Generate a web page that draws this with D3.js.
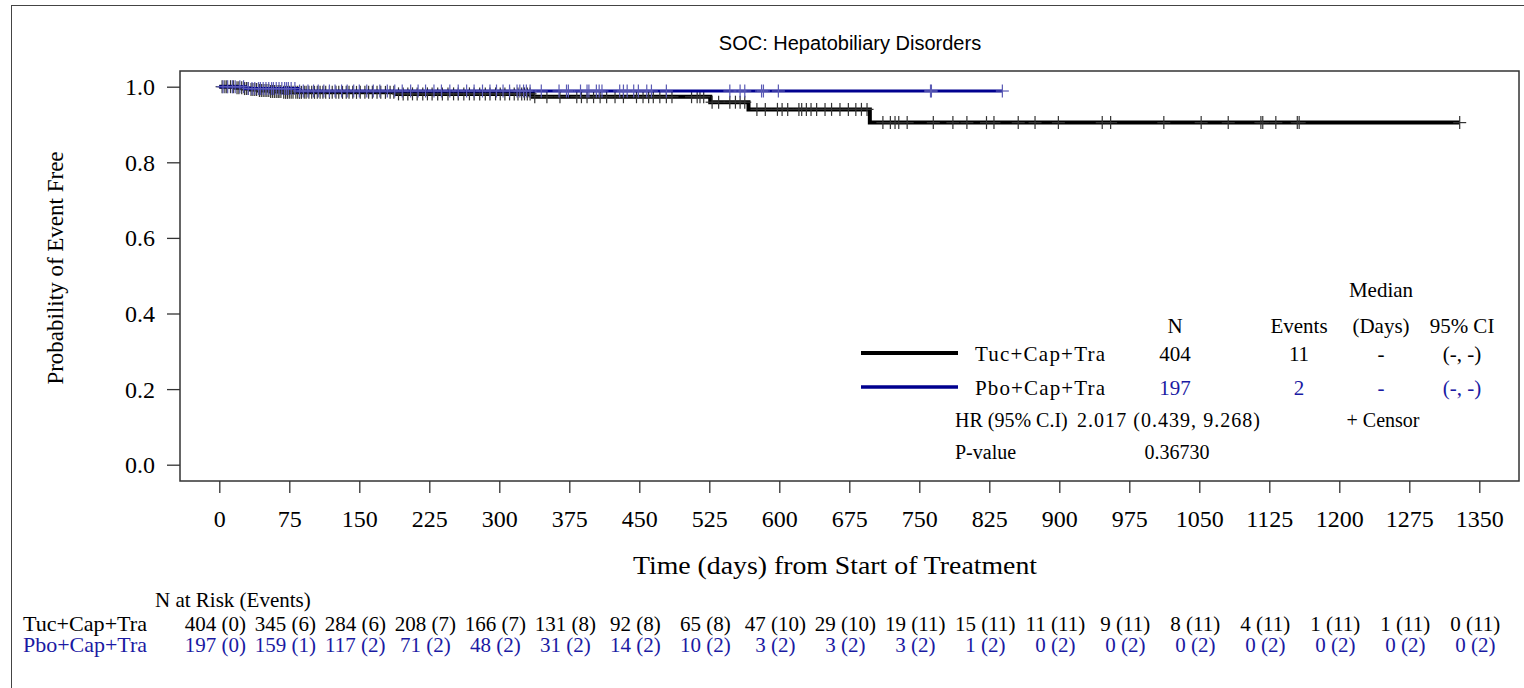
<!DOCTYPE html>
<meta charset="utf-8">
<head>
  <title>KM - Hepatobiliary Disorders</title>
</head>

<style>
  body { margin: 0; background: #fff; }
  text { font-family: "Liberation Serif", "Times New Roman", serif; fill: #000; }
  .title { font-family: "Liberation Sans", Arial, sans-serif; }
</style>

<body>

  <div id="my_dataviz"></div>

  <script src="https://d3js.org/d3.v7.min.js"></script>
  <script>

  // ---- data ----
  var xTickValues = [0, 75, 150, 225, 300, 375, 450, 525, 600, 675, 750, 825, 900, 975, 1050, 1125, 1200, 1275, 1350];
  var yTickValues = [0, 0.2, 0.4, 0.6, 0.8, 1.0];

  var groups = ["Tuc+Cap+Tra", "Pbo+Cap+Tra"];

  // KM steps (time in days, survival after the step)
  var tucTimes = [0, 18, 25, 33, 42, 55, 68, 190, 336, 526, 567, 697];
  var tucSurv  = [1, 0.9975, 0.995, 0.9925, 0.990, 0.9875, 0.985, 0.981, 0.9735, 0.959, 0.940, 0.905];
  var tucEnd = 1329;

  var pboTimes = [0, 28, 84];
  var pboSurv  = [1, 0.995, 0.9886];
  var pboEnd = 839;

  // censored times
  var tucCensor = [3, 6, 8, 12, 15, 19, 21, 24, 27, 29, 31, 34, 36, 38, 40, 43, 45, 47, 49, 51, 53, 55, 57, 59, 61,
    63, 64, 66, 69, 71, 73, 75, 77, 79, 82, 84, 86, 88, 91, 93, 96, 99, 102, 105, 108, 111, 114, 118, 121, 125, 128,
    132, 136, 139, 143, 147, 151, 156, 160, 164, 169, 173, 178, 183, 187, 192, 197, 202, 207, 212, 218, 223, 228, 234,
    239, 245, 251, 256, 262, 268, 273, 279, 285, 290, 296, 301, 306, 311, 316, 320, 324, 327, 330, 333,
    338, 351, 365, 383, 388, 394, 401, 408, 415, 424, 433, 447, 454, 460, 465, 472, 479, 485, 506, 512, 515, 519,
    528, 535, 547, 553, 558, 563, 576, 585, 598, 603, 609, 621, 624, 629, 634, 640, 649, 656, 665, 674, 682, 688, 694,
    711, 719, 724, 728, 737, 765, 786, 801, 822, 830, 856, 874, 899, 946, 955, 1012, 1052, 1081, 1116, 1118, 1132,
    1155, 1157, 1329];
  var pboCensor = [4, 9, 14, 17, 22, 26, 31, 35, 38, 42, 44, 47, 50, 53, 56, 58, 61, 64, 67, 70, 72, 74, 77, 81, 86,
    90, 95, 101, 106, 112, 118, 124, 131, 137, 144, 150, 158, 165, 172, 180, 188, 196, 205, 213, 221, 230, 238, 247,
    256, 265, 273, 282, 290, 297, 304, 311, 319, 322, 326, 329, 333, 345, 364, 372, 374, 387, 394, 396, 404, 407, 410,
    429, 433, 437, 444, 449, 458, 463, 479, 547, 558, 563, 581, 583, 599, 762, 763, 839];

  // legend table
  var legendN = [404, 197];
  var legendEvents = [11, 2];
  var legendMedian = ["-", "-"];
  var legendCI = ["(-, -)", "(-, -)"];
  var hrLabel = "HR (95% C.I)";
  var hrValue = "2.017 (0.439, 9.268)";
  var pValue = "0.36730";

  // numbers at risk (events) at each x tick
  var tucRisk   = [404, 345, 284, 208, 166, 131, 92, 65, 47, 29, 19, 15, 11, 9, 8, 4, 1, 1, 0];
  var tucRiskEv = [0, 6, 6, 7, 7, 8, 8, 8, 10, 10, 11, 11, 11, 11, 11, 11, 11, 11, 11];
  var pboRisk   = [197, 159, 117, 71, 48, 31, 14, 10, 3, 3, 3, 1, 0, 0, 0, 0, 0, 0, 0];
  var pboRiskEv = [0, 1, 2, 2, 2, 2, 2, 2, 2, 2, 2, 2, 2, 2, 2, 2, 2, 2, 2];

  var colBlack = "#000000", colBlue = "#00008f", colBlueText = "#1a1aa3";

  // ---- svg ----
  var W = 1524, H = 688;
  var svg = d3.select("#my_dataviz")
    .append("svg")
      .attr("width", W)
      .attr("height", H);

  // outer frame
  svg.append("rect")
    .attr("x", 11.5).attr("y", 5.5)
    .attr("width", W + 20).attr("height", H + 20)
    .style("fill", "none").style("stroke", "#444").style("stroke-width", 1);

  svg.append("text").attr("class", "title")
    .attr("x", 850).attr("y", 50)
    .attr("text-anchor", "middle")
    .style("font-size", "20px")
    .text("SOC: Hepatobiliary Disorders");

  // plot box
  var box = {left: 180, top: 71, right: 1519, bottom: 481};
  svg.append("rect")
    .attr("x", box.left).attr("y", box.top)
    .attr("width", box.right - box.left).attr("height", box.bottom - box.top)
    .style("fill", "none").style("stroke", "#333").style("stroke-width", 1.5);

  var x = d3.scaleLinear().domain([0, 1350]).range([219.3, 1479.3]);
  var y = d3.scaleLinear().domain([0, 1]).range([464.7, 86.7]);

  // x axis
  var gx = svg.append("g")
    .attr("transform", "translate(0," + box.bottom + ")")
    .call(d3.axisBottom(x).tickValues(xTickValues).tickSize(12).tickPadding(20).tickFormat(d3.format("d")));
  gx.select(".domain").remove();
  gx.selectAll("line").style("stroke", "#333").style("stroke-width", 1.3);
  gx.selectAll("text").style("font-size", "24px").style("font-family", "Liberation Serif").attr("dy", null).attr("y", 46);

  // y axis
  var gy = svg.append("g")
    .attr("transform", "translate(" + box.left + ",0)")
    .call(d3.axisLeft(y).tickValues(yTickValues).tickSize(13).tickPadding(12).tickFormat(d3.format(".1f")));
  gy.select(".domain").remove();
  gy.selectAll("line").style("stroke", "#333").style("stroke-width", 1.3);
  gy.selectAll("text").style("font-size", "24px").style("font-family", "Liberation Serif").attr("dy", "0.33em");

  svg.append("text")
    .attr("transform", "translate(63,268) rotate(-90)")
    .attr("text-anchor", "middle")
    .style("font-size", "23px")
    .text("Probability of Event Free");

  svg.append("text")
    .attr("x", 633).attr("y", 574)
    .attr("textLength", 404)
    .attr("lengthAdjust", "spacingAndGlyphs")
    .style("font-size", "25px")
    .text("Time (days) from Start of Treatment");

  // ---- curves ----
  function survAt(times, surv, t) {
    var i = d3.bisectRight(times, t) - 1;
    return surv[Math.max(i, 0)];
  }

  function stepPoints(times, surv, end) {
    var pts = times.map(function(t, i) { return [t, surv[i]]; });
    pts.push([end, surv[surv.length - 1]]);
    return pts;
  }

  var line = d3.line()
    .x(function(d) { return x(d[0]); })
    .y(function(d) { return y(d[1]); })
    .curve(d3.curveStepAfter);

  function drawGroup(times, surv, end, censor, color, width, markColor) {
    svg.append("path")
      .datum(stepPoints(times, surv, end))
      .attr("d", line)
      .style("fill", "none")
      .style("stroke", color)
      .style("stroke-width", width);

    var g = svg.append("g");
    g.selectAll("line.v")
      .data(censor)
      .enter()
      .append("line")
        .attr("x1", function(d) { return x(d); })
        .attr("x2", function(d) { return x(d); })
        .attr("y1", function(d) { return y(survAt(times, surv, d)) - 6.5; })
        .attr("y2", function(d) { return y(survAt(times, surv, d)) + 6.5; })
        .style("stroke", markColor)
        .style("stroke-width", 1.2);
    g.selectAll("line.h")
      .data(censor)
      .enter()
      .append("line")
        .attr("x1", function(d) { return x(d) - 6.5; })
        .attr("x2", function(d) { return x(d) + 6.5; })
        .attr("y1", function(d) { return y(survAt(times, surv, d)); })
        .attr("y2", function(d) { return y(survAt(times, surv, d)); })
        .style("stroke", markColor)
        .style("stroke-width", 1.2);
  }

  drawGroup(tucTimes, tucSurv, tucEnd, tucCensor, colBlack, 4, "#333");
  drawGroup(pboTimes, pboSurv, pboEnd, pboCensor, colBlue, 3, "#5a5ab4");

  // ---- legend table ----
  var leg = svg.append("g").style("font-size", "21px");
  var colN = 1175, colEv = 1299, colMed = 1381, colCI = 1462;
  var rowY = [361, 395];

  leg.append("text").attr("x", colMed).attr("y", 297).attr("text-anchor", "middle").text("Median");
  leg.append("text").attr("x", colN).attr("y", 333).attr("text-anchor", "middle").text("N");
  leg.append("text").attr("x", colEv).attr("y", 333).attr("text-anchor", "middle").text("Events");
  leg.append("text").attr("x", colMed).attr("y", 333).attr("text-anchor", "middle").text("(Days)");
  leg.append("text").attr("x", colCI).attr("y", 333).attr("text-anchor", "middle").text("95% CI");

  groups.forEach(function(name, i) {
    var tc = i === 0 ? colBlack : colBlueText;
    leg.append("line")
      .attr("x1", 861).attr("x2", 958)
      .attr("y1", rowY[i] - 8).attr("y2", rowY[i] - 8)
      .style("stroke", i === 0 ? colBlack : colBlue)
      .style("stroke-width", i === 0 ? 4 : 3.5);
    leg.append("text").attr("x", 975).attr("y", rowY[i])
      .attr("textLength", 130).attr("lengthAdjust", "spacing").text(name);
    leg.append("text").attr("x", colN).attr("y", rowY[i]).attr("text-anchor", "middle").style("fill", tc).text(legendN[i]);
    leg.append("text").attr("x", colEv).attr("y", rowY[i]).attr("text-anchor", "middle").style("fill", tc).text(legendEvents[i]);
    leg.append("text").attr("x", colMed).attr("y", rowY[i]).attr("text-anchor", "middle").style("fill", tc).text(legendMedian[i]);
    leg.append("text").attr("x", colCI).attr("y", rowY[i]).attr("text-anchor", "middle").style("fill", tc).text(legendCI[i]);
  });

  var small = leg.append("g").style("font-size", "20px");
  small.append("text").attr("x", 955).attr("y", 427).text(hrLabel);
  small.append("text").attr("x", 1077).attr("y", 427).attr("textLength", 183).attr("lengthAdjust", "spacing").text(hrValue);
  small.append("text").attr("x", 1383).attr("y", 427).attr("text-anchor", "middle").text("+ Censor");
  small.append("text").attr("x", 955).attr("y", 459).text("P-value");
  small.append("text").attr("x", 1177).attr("y", 459).attr("text-anchor", "middle").text(pValue);

  // ---- numbers at risk ----
  var risk = svg.append("g").style("font-size", "21px");
  risk.append("text").attr("x", 155).attr("y", 607).text("N at Risk (Events)");
  var riskRows = [
    {name: groups[0], n: tucRisk, ev: tucRiskEv, y: 631, color: colBlack},
    {name: groups[1], n: pboRisk, ev: pboRiskEv, y: 652, color: colBlueText}
  ];
  riskRows.forEach(function(r) {
    risk.append("text").attr("x", 23).attr("y", r.y).style("fill", r.color)
      .attr("textLength", 124).attr("lengthAdjust", "spacingAndGlyphs").text(r.name);
    risk.selectAll(null)
      .data(xTickValues)
      .enter()
      .append("text")
        .attr("x", function(d) { return x(d) - 4; })
        .attr("y", r.y)
        .attr("text-anchor", "middle")
        .style("fill", r.color)
        .text(function(d, i) { return r.n[i] + " (" + r.ev[i] + ")"; });
  });

  </script>
</body>
</html>
